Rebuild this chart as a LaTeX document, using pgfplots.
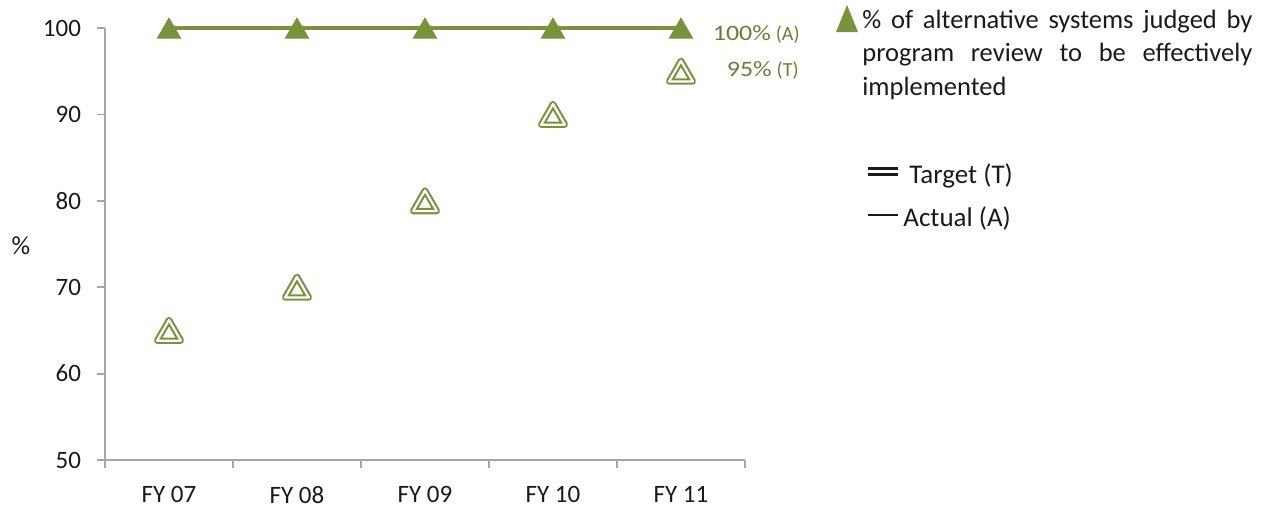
\documentclass[border=0pt]{standalone}
\usepackage{fontspec}
\setmainfont{Carlito}
\usepackage{graphicx}
\usepackage{pgfplots}
\pgfplotsset{compat=1.18}

\definecolor{olive}{HTML}{77933C}
\definecolor{olivetext}{HTML}{677E35}
\definecolor{axisgray}{HTML}{A6A6A6}
\definecolor{ink}{HTML}{1A1A1A}

\begin{document}
\begin{tikzpicture}
% page frame, measured in pixels from the top-left corner
\begin{scope}[x=0.5pt,y=-0.5pt]
  \path[use as bounding box] (0,0) rectangle (1266,510);
\end{scope}

\begin{axis}[
  at={(52.5pt,-230pt)}, anchor=south west,
  scale only axis, width=320pt, height=216pt,
  xmin=-0.5, xmax=4.5, ymin=50, ymax=100,
  axis x line=bottom, axis y line=left,
  axis line style={draw=axisgray, line width=0.9pt, -},
  clip=false,
  tick align=outside,
  major tick length=4pt,
  tick style={draw=axisgray, line width=0.9pt},
  xtick={-0.5,0.5,...,4.5}, xticklabels={},
  extra x ticks={0,1,2,3,4},
  extra x tick labels={FY 07,FY 08,FY 09,FY 10,FY 11},
  extra x tick style={major tick length=0pt},
  xticklabel style={font=\fontsize{12.5}{14}\selectfont, text=ink, yshift=-9.5pt},
  ytick={50,60,...,100},
  yticklabel style={font=\fontsize{12.5}{14}\selectfont, text=ink, xshift=-4.5pt},
  /pgf/number format/assume math mode=true,
]
% actual values
\addplot[olive, line width=1.6pt, mark=triangle*, mark size=6.7pt,
  mark options={solid, yshift=-1.7pt, line width=0.4pt, fill=olive, draw=olive}]
  coordinates {(0,100) (1,100) (2,100) (3,100) (4,100)};
% targets: double outlined triangles
\addplot[only marks, mark=triangle, mark size=6.9pt,
  mark options={draw=olive, line width=3.2pt, line join=round, yshift=-1.7pt}]
  coordinates {(0,65) (1,70) (2,80) (3,90) (4,95)};
\addplot[only marks, mark=triangle, mark size=6.9pt,
  mark options={draw=white, line width=1.1pt, line join=round, yshift=-1.7pt}]
  coordinates {(0,65) (1,70) (2,80) (3,90) (4,95)};

% end-of-series value labels
\node[anchor=base east, text=olivetext, inner sep=0pt, xshift=59.5pt, yshift=-6pt]
  at (axis cs:4,100)
  {\scalebox{1.18}[1]{\fontsize{11}{13}\selectfont 100\%}\hspace{2.5pt}{\fontsize{10}{11}\selectfont (A)}};
\node[anchor=base east, text=olivetext, inner sep=0pt, xshift=59pt, yshift=-2.6pt]
  at (axis cs:4,95)
  {\scalebox{1.18}[1]{\fontsize{11}{13}\selectfont 95\%}\hspace{2.5pt}{\fontsize{10}{11}\selectfont (T)}};
\end{axis}

\begin{scope}[x=0.5pt,y=-0.5pt]
  % y axis title
  \node[text=ink, font=\fontsize{13}{15}\selectfont] at (21,246) {\%};
  % legend
  \fill[olive] (836,32) -- (858,32) -- (847,5) -- cycle;
  \node[anchor=base west, inner sep=0pt, text width=195pt, align=justify, text=ink,
        font=\fontsize{13.25}{16.75}\selectfont] at (862,28)
    {\% of alternative systems judged by\linebreak program review to be effectively\linebreak implemented};
  \draw[ink, line width=1.2pt] (868,168.5) -- (898,168.5);
  \draw[ink, line width=1.2pt] (868,174.5) -- (898,174.5);
  \node[anchor=base west, inner sep=0pt, text=ink, font=\fontsize{13.5}{16}\selectfont] at (909,183) {Target (T)};
  \draw[ink, line width=0.9pt] (868,215) -- (898,215);
  \node[anchor=base west, inner sep=0pt, text=ink, font=\fontsize{13.5}{16}\selectfont] at (903,226) {Actual (A)};
\end{scope}
\end{tikzpicture}
\end{document}
